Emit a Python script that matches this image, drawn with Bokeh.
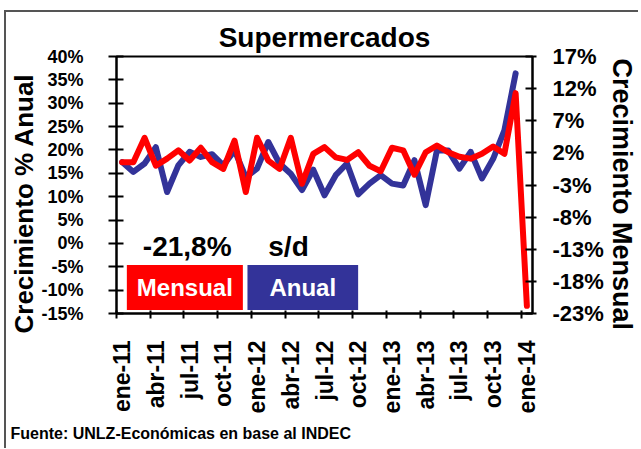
import numpy as np
from bokeh.plotting import figure
from bokeh.models import Range1d, LinearAxis, FixedTicker, Label, ColumnDataSource, Title
from bokeh.embed import file_html
from bokeh.resources import INLINE

# ---- data ----
meses = ["ene-11", "feb-11", "mar-11", "abr-11", "may-11", "jun-11", "jul-11", "ago-11",
         "sep-11", "oct-11", "nov-11", "dic-11",
         "ene-12", "feb-12", "mar-12", "abr-12", "may-12", "jun-12", "jul-12", "ago-12",
         "sep-12", "oct-12", "nov-12", "dic-12",
         "ene-13", "feb-13", "mar-13", "abr-13", "may-13", "jun-13", "jul-13", "ago-13",
         "sep-13", "oct-13", "nov-13", "dic-13", "ene-14"]
# Crecimiento % anual (left axis); ene-14 sin dato
anual = [17.4, 15.3, 17.1, 20.6, 11.0, 16.7, 19.6, 18.5, 19.1, 16.7, 19.9, 14.2,
         16.0, 21.7, 17.1, 14.9, 11.4, 15.8, 10.3, 14.6, 17.1, 10.5, 12.8, 14.6,
         12.8, 12.4, 17.8, 8.2, 19.9, 19.9, 16.0, 19.6, 13.9, 18.1, 24.2, 36.4, float("nan")]
# Crecimiento % mensual (right axis)
mensual = [0.55, 0.55, 4.35, 0.0, 1.1, 2.4, 0.8, 2.8, 0.55, -0.5, 3.9, -4.1,
           4.35, 0.8, -0.5, 4.35, -2.8, 1.85, 2.9, 1.3, 0.9, 2.1, 0.0, -0.85,
           2.8, 2.4, -1.4, 2.1, 3.15, 2.1, 1.4, 1.1, 1.85, 3.0, 1.85, 11.3, -21.8]
x_tick_labels = ["ene-11", "abr-11", "jul-11", "oct-11", "ene-12", "abr-12", "jul-12",
                 "oct-12", "ene-13", "abr-13", "jul-13", "oct-13", "ene-14"]
left_ticks = [-15, -10, -5, 0, 5, 10, 15, 20, 25, 30, 35, 40]
right_ticks = [-23, -18, -13, -8, -3, 2, 7, 12, 17]
ultimo_mensual = "-21,8%"
ultimo_anual = "s/d"

FONT = "Liberation Sans"
BLUE = "#333399"
RED = "#FF0000"

n = len(meses)
xs = np.arange(n) + 0.5
src = ColumnDataSource(dict(x=xs, anual=anual, mensual=mensual))

p = figure(frame_width=416, frame_height=257,
           x_range=Range1d(0, n), y_range=Range1d(left_ticks[0], left_ticks[-1]),
           output_backend="svg", toolbar_location=None,
           min_border_left=110, min_border_right=105, min_border_top=44, min_border_bottom=135)
p.extra_y_ranges = {"m": Range1d(right_ticks[0], right_ticks[-1])}
p.styles = {"margin-left": "4px", "margin-top": "10px",
            "border-left": "2px solid #555555", "border-top": "2px solid #555555"}

p.grid.visible = False
p.outline_line_color = "black"
p.outline_line_width = 2
p.background_fill_color = "white"
p.border_fill_color = "white"

# title
p.title.text = "Supermercados"
p.title.align = "center"
p.title.text_font = FONT
p.title.text_font_style = "bold"
p.title.text_font_size = "28px"
p.title.text_color = "black"
p.title.standoff = 8

# x axis
step = 3
pos = [float(v) for v in xs[::step]]
p.xaxis.ticker = FixedTicker(ticks=pos, minor_ticks=[float(v) for v in np.arange(0, n, step)])
p.xaxis.major_label_overrides = {v: lab for v, lab in zip(pos, x_tick_labels)}
p.xaxis.major_label_orientation = np.pi / 2
p.xaxis.major_tick_line_color = None
p.xaxis.major_tick_out = 5
p.xaxis.major_tick_in = 0
p.xaxis.minor_tick_line_color = "black"
p.xaxis.minor_tick_line_width = 2
p.xaxis.minor_tick_in = 3
p.xaxis.minor_tick_out = 5
p.xaxis.major_label_standoff = 22
p.xaxis.axis_line_width = 2
p.xaxis.major_label_text_font = FONT
p.xaxis.major_label_text_font_style = "bold"
p.xaxis.major_label_text_font_size = "23px"
p.xaxis.major_label_text_color = "black"

# left axis
p.yaxis.ticker = FixedTicker(ticks=left_ticks)
p.yaxis.major_label_overrides = {v: f"{v}%" for v in left_ticks}
p.yaxis.minor_tick_line_color = None
p.yaxis.major_tick_in = 7
p.yaxis.major_tick_out = 8
p.yaxis.major_tick_line_width = 2
p.yaxis.axis_line_width = 2
p.yaxis.major_label_standoff = 25
p.yaxis.major_label_text_font = FONT
p.yaxis.major_label_text_font_style = "bold"
p.yaxis.major_label_text_font_size = "18px"
p.yaxis.major_label_text_color = "black"

# right axis
ax_r = LinearAxis(y_range_name="m", ticker=FixedTicker(ticks=right_ticks))
ax_r.major_label_overrides = {v: f"{v}%" for v in right_ticks}
ax_r.minor_tick_line_color = None
ax_r.major_tick_in = 7
ax_r.major_tick_out = 4
ax_r.major_tick_line_width = 2
ax_r.axis_line_width = 2
ax_r.major_label_standoff = 16
ax_r.major_label_text_font = FONT
ax_r.major_label_text_font_style = "bold"
ax_r.major_label_text_font_size = "22px"
ax_r.major_label_text_color = "black"
p.add_layout(ax_r, "right")

# axis titles and source note as side titles
def side_title(text, size, place, **kw):
    t = Title(text=text, text_font=FONT, text_font_style="bold", text_font_size=size,
              text_color="black", **kw)
    p.add_layout(t, place)

side_title("Crecimiento % Anual", "26px", "left", align="left", offset=-20, standoff=0)
side_title("Crecimiento Mensual", "27px", "right", align="left", offset=2, standoff=0)
side_title("Fuente: UNLZ-Económicas en base al INDEC", "16px", "below", align="left",
           offset=-106, standoff=12)

# lines
p.line("x", "anual", source=src, color=BLUE, line_width=6, line_join="round", line_cap="round")
p.line("x", "mensual", source=src, color=RED, line_width=6, line_join="round", line_cap="round",
       y_range_name="m")

# in-plot texts
def lab(x, y, text, size, **kw):
    opts = dict(text_font=FONT, text_font_style="bold", text_font_size=size, text_color="black",
                text_align="center", text_baseline="middle")
    opts.update(kw)
    p.add_layout(Label(x=x, y=y, text=text, **opts))

lab(6.29, -0.66, ultimo_mensual, "28px")
lab(15.30, -0.66, ultimo_anual, "28px")
lab(6.08, -9.44, "Mensual", "24px", text_color="white", background_fill_color=RED,
    padding=dict(left=10, right=10, top=9, bottom=9))
lab(16.57, -9.44, "Anual", "24px", text_color="white", background_fill_color=BLUE,
    padding=dict(left=22, right=22, top=9, bottom=9))

open("out.html", "w").write(file_html(p, INLINE))
